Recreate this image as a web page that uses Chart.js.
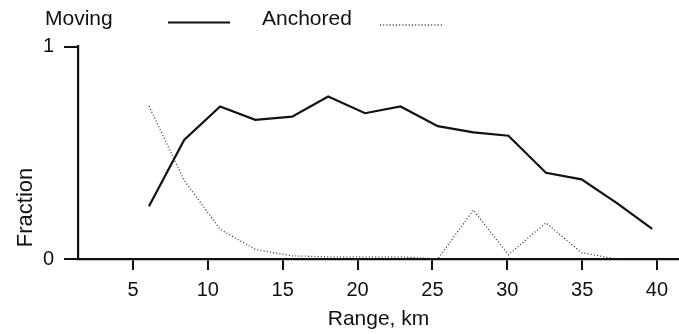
<!DOCTYPE html>
<html>
<head>
<meta charset="utf-8">
<script src="https://cdn.jsdelivr.net/npm/chart.js@4/dist/chart.umd.min.js"></script>
<style>
  html, body { margin: 0; padding: 0; background: #fff; }
  #wrap { width: 679px; height: 334px; position: relative; }
</style>
</head>
<body>
<div id="wrap"><canvas id="c"></canvas></div>
<script>
// Range bins (km) and the fraction of echoes in each class
const rangeKm = [6.07, 8.42, 10.82, 13.17, 15.63, 18.04, 20.5, 22.87, 25.36, 27.74, 30.08, 32.58, 34.96, 37.3, 39.68];
const movingFraction = [0.248, 0.56, 0.718, 0.655, 0.67, 0.765, 0.686, 0.718, 0.625, 0.596, 0.58, 0.406, 0.375, 0.264, 0.142];
const anchoredFraction = [0.72, 0.37, 0.14, 0.045, 0.015, 0.01, 0.01, 0.01, 0, 0.23, 0.02, 0.17, 0.03, 0, null];
const xTickValues = [5, 10, 15, 20, 25, 30, 35, 40];
const yTickValues = [0, 1];
const seriesNames = ['Moving', 'Anchored'];

const FONT = '"Liberation Sans", Arial, Helvetica, sans-serif';
const INK = '#111';

function pairs(xs, ys) {
  return xs.map((x, i) => ({ x: x, y: ys[i] }));
}

// Legend drawn as "label  sample" pairs along the top edge
const textLegend = {
  id: 'textLegend',
  afterDraw(chart) {
    const ctx = chart.ctx;
    const slots = [
      { textX: 45, x0: 168, x1: 230, y: 22.5 },
      { textX: 262, x0: 380, x1: 442, y: 25 }
    ];
    ctx.save();
    ctx.font = '21px ' + FONT;
    ctx.fillStyle = INK;
    ctx.textBaseline = 'alphabetic';
    chart.data.datasets.forEach((ds, i) => {
      const s = slots[i];
      ctx.fillText(ds.label, s.textX, 25);
      ctx.beginPath();
      ctx.strokeStyle = ds.borderColor;
      ctx.lineWidth = ds.borderWidth;
      ctx.setLineDash(ds.borderDash || []);
      ctx.moveTo(s.x0, s.y);
      ctx.lineTo(s.x1, s.y);
      ctx.stroke();
    });
    ctx.restore();
  }
};

// Vertical axis title, placed toward the lower part of the axis
const yTitle = {
  id: 'yTitle',
  afterDraw(chart) {
    const ctx = chart.ctx;
    ctx.save();
    ctx.font = '22px ' + FONT;
    ctx.fillStyle = INK;
    ctx.textAlign = 'center';
    ctx.textBaseline = 'alphabetic';
    ctx.translate(32, 207.5);
    ctx.rotate(-Math.PI / 2);
    ctx.fillText('Fraction', 0, 0);
    ctx.restore();
  }
};

new Chart(document.getElementById('c'), {
  type: 'line',
  data: {
    datasets: [
      {
        label: seriesNames[0],
        data: pairs(rangeKm, movingFraction),
        borderColor: INK,
        borderWidth: 2.2,
        pointRadius: 0,
        tension: 0,
        fill: false
      },
      {
        label: seriesNames[1],
        data: pairs(rangeKm, anchoredFraction),
        borderColor: '#333',
        borderWidth: 1.3,
        borderDash: [1, 2.2],
        pointRadius: 0,
        tension: 0,
        fill: false,
        spanGaps: false
      }
    ]
  },
  options: {
    responsive: true,
    maintainAspectRatio: false,
    animation: false,
    layout: { padding: { top: 46.5, right: 0, bottom: 0, left: 0 } },
    plugins: {
      legend: { display: false },
      tooltip: { enabled: false }
    },
    scales: {
      x: {
        type: 'linear',
        min: 1.33,
        max: 41.47,
        afterBuildTicks(scale) { scale.ticks = xTickValues.map(v => ({ value: v })); },
        afterFit(scale) { scale.height = 75; },
        border: { display: true, color: INK, width: 2.2 },
        grid: { drawOnChartArea: false, drawTicks: true, tickLength: 11, color: INK, lineWidth: 2 },
        ticks: { color: INK, font: { family: FONT, size: 20 }, padding: 8, maxRotation: 0 },
        title: { display: true, text: 'Range, km', color: INK, font: { family: FONT, size: 21 }, padding: { top: 0, bottom: 2 } }
      },
      y: {
        type: 'linear',
        min: 0,
        max: 1,
        afterBuildTicks(scale) { scale.ticks = yTickValues.map(v => ({ value: v })); },
        afterFit(scale) { scale.width = 78; },
        border: { display: true, color: INK, width: 2.2 },
        grid: { drawOnChartArea: false, drawTicks: true, tickLength: 14, color: INK, lineWidth: 2 },
        ticks: { color: INK, font: { family: FONT, size: 20 }, padding: 10 }
      }
    }
  },
  plugins: [textLegend, yTitle]
});
</script>
</body>
</html>
